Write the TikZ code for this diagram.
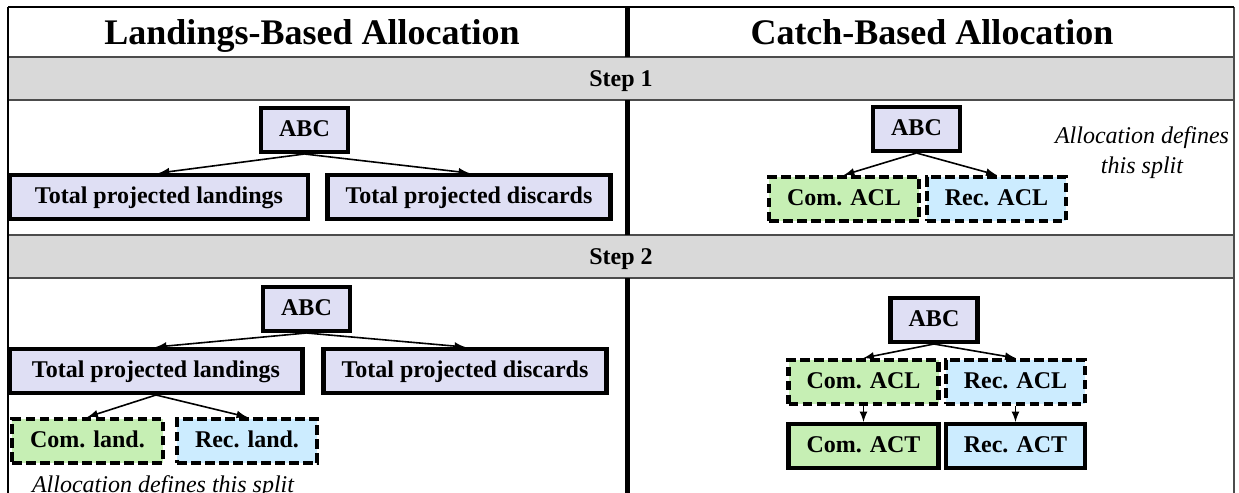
\documentclass[tikz,border=0pt]{standalone}
\usepackage{fontspec}
\setmainfont{Liberation Serif}
\usetikzlibrary{shapes}

\definecolor{abcfill}{RGB}{223,223,244}
\definecolor{comfill}{RGB}{198,239,180}
\definecolor{recfill}{RGB}{204,236,255}
\definecolor{bandgray}{RGB}{217,217,217}

\begin{document}
\begin{tikzpicture}[x=0.5pt, y=-0.5pt,
    box/.style={draw, line width=2.2pt, inner xsep=9pt, inner ysep=0pt, minimum height=21.8pt, text height=8.6pt, text depth=2.4pt, font=\fontsize{12}{14}\selectfont\bfseries},
    alloc/.style={box, dash pattern=on 4.8pt off 2.2pt},
    title/.style={anchor=base, font=\fontsize{18}{20}\selectfont\bfseries},
    note/.style={font=\fontsize{12}{15}\selectfont\itshape, align=center},
    arr/.style={->, >=latex, line width=0.8pt}]
    \useasboundingbox (0,0) rectangle (1239,493);

    % frame and step bands
    \fill[bandgray] (8,57) rectangle (1234,100);
    \fill[bandgray] (8,235) rectangle (1234,278);
    \draw[gray!60!black, line width=0.6pt] (8,57) -- (1234,57) (8,100) -- (1234,100) (8,235) -- (1234,235) (8,278) -- (1234,278);
    \draw[gray!60!black, line width=0.6pt] (1234,7) -- (1234,493);
    \draw[line width=1pt] (8,7) -- (1234,7);
    \draw[line width=1.3pt] (8,7) -- (8,493);
    \draw[line width=2.5pt] (627,7) -- (627,57) (627,100) -- (627,235) (627,278) -- (627,493);

    \node[title] (LBA) at (312,44) {Landings-Based Allocation};
    \node[title] (CBA) at (932,44) {Catch-Based Allocation};
    \node[anchor=base, font=\fontsize{12}{14}\selectfont\bfseries] (S1) at (621,86) {Step 1};
    \node[anchor=base, font=\fontsize{12}{14}\selectfont\bfseries] (S2) at (621,264) {Step 2};

    % step 1, landings
    \node[box, fill=abcfill] (ABC1) at (304.5,130) {ABC};
    \node[box, fill=abcfill, minimum width=148.8pt] (TPL1) at (159,197) {Total projected landings};
    \node[box, fill=abcfill] (TPD1) at (469,197) {Total projected discards};
    \draw[arr] (ABC1.south) to (TPL1.north);
    \draw[arr] (ABC1.south) to (TPD1.north);

    % step 1, catch
    \node[box, fill=abcfill] (ABC2) at (916.5,129) {ABC};
    \node[alloc, fill=comfill] (CACL1) at (844,199) {Com. ACL};
    \node[alloc, fill=recfill] (RACL1) at (996.5,199) {Rec. ACL};
    \draw[arr] (ABC2.south) to (CACL1.north);
    \draw[arr] (ABC2.south) to (RACL1.north);
    \node[note] (N1) at (1142,153) {Allocation defines\\this split};

    % step 2, landings
    \node[box, fill=abcfill] (ABC3) at (306.5,309) {ABC};
    \node[box, fill=abcfill, minimum width=146.5pt] (TPL2) at (156,371) {Total projected landings};
    \node[box, fill=abcfill] (TPD2) at (465,371) {Total projected discards};
    \node[alloc, fill=comfill] (CL) at (87.5,441) {Com. land.};
    \node[alloc, fill=recfill] (RL) at (247,441) {Rec. land.};
    \draw[arr] (ABC3.south) to (TPL2.north);
    \draw[arr] (ABC3.south) to (TPD2.north);
    \draw[arr] (TPL2.south) to (CL.north);
    \draw[arr] (TPL2.south) to (RL.north);
    \node[note] (N2) at (163,487) {Allocation defines this split};

    % step 2, catch
    \node[box, fill=abcfill] (ABC4) at (934,320) {ABC};
    \node[alloc, fill=comfill] (CACL2) at (863.5,382) {Com. ACL};
    \node[alloc, fill=recfill] (RACL2) at (1015.5,382) {Rec. ACL};
    \node[box, fill=comfill] (CACT) at (863.5,446) {Com. ACT};
    \node[box, fill=recfill] (RACT) at (1015.5,446) {Rec. ACT};
    \draw[arr] (ABC4.south) to (CACL2.north);
    \draw[arr] (ABC4.south) to (RACL2.north);
    \draw[arr] (CACL2.south) to (CACT.north);
    \draw[arr] (RACL2.south) to (RACT.north);
\end{tikzpicture}
\end{document}
